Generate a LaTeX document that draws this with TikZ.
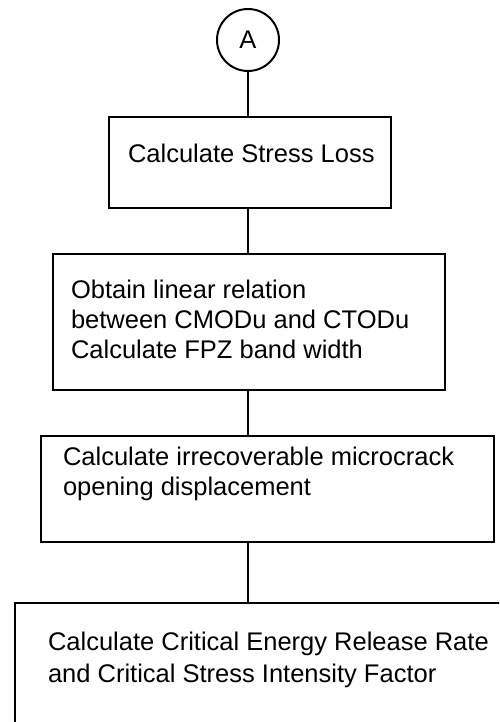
\documentclass[tikz,border=0pt]{standalone}
\usepackage{fontspec}
\setmainfont{Liberation Sans}
\begin{document}
\begin{tikzpicture}[x=1pt,y=-1pt,
  line width=2pt,
  boxnode/.style={draw, line width=2pt, rectangle, inner sep=0pt, anchor=north west},
  txt/.style={anchor=base west, inner sep=0pt, font=\fontsize{25.5}{30}\selectfont},
  conn/.style={draw, line width=1.8pt}]
\useasboundingbox (0,0) rectangle (499,722);
\clip (0,0) rectangle (499,722);
\node[draw, circle, line width=2pt, minimum size=62pt, inner sep=0pt,
      font=\fontsize{25.5}{30}\selectfont] (A) at (248,40) {A};
\node[boxnode, minimum width=282pt, minimum height=91pt] (b1) at (108,116) {};
\node[boxnode, minimum width=392pt, minimum height=136pt] (b2) at (52,253) {};
\node[boxnode, minimum width=453pt, minimum height=106pt] (b3) at (40,435) {};
\node[boxnode, minimum width=520pt, minimum height=160pt] (b4) at (14,602) {};
\node[txt] (t1) at (127,163) {Calculate Stress Loss};
\node[txt] (t2a) at (70,298) {Obtain linear relation};
\node[txt] (t2b) at (70,328) {between CMODu and CTODu};
\node[txt] (t2c) at (70,358) {Calculate FPZ band width};
\node[txt] (t3a) at (62,465) {Calculate irrecoverable microcrack};
\node[txt] (t3b) at (62,495) {opening displacement};
\node[txt] (t4a) at (47,650) {Calculate Critical Energy Release Rate};
\node[txt] (t4b) at (47,682) {and Critical Stress Intensity Factor};
\draw[conn] (A.south) -- (A.south |- b1.north);
\draw[conn] (b1.south -| A.south) -- (b2.north -| A.south);
\draw[conn] (b2.south -| A.south) -- (b3.north -| A.south);
\draw[conn] (b3.south -| A.south) -- (b4.north -| A.south);
\end{tikzpicture}
\end{document}
